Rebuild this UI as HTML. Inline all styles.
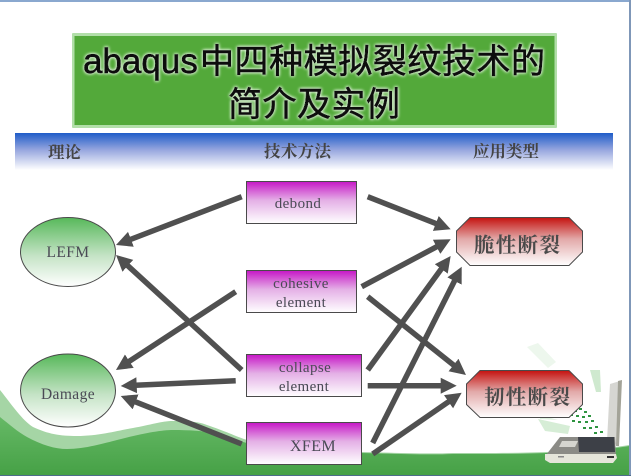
<!DOCTYPE html>
<html><head><meta charset="utf-8"><style>
html,body{margin:0;padding:0;background:#fff;width:631px;height:476px;overflow:hidden}
svg{display:block}
.h{font-family:"Noto Serif CJK SC","Liberation Serif",serif;font-size:16.5px;font-weight:700;fill:#444}
.l{font-family:"Liberation Serif","Noto Serif CJK SC",serif;font-size:15px;fill:#4a4a55;text-anchor:middle;letter-spacing:.4px}
.o{font-family:"Noto Serif CJK SC",serif;font-size:20.5px;font-weight:700;fill:#4a4a4a}
.t{font-family:"Liberation Sans","Noto Sans CJK SC",sans-serif;fill:#111;stroke:#111;stroke-width:.7px}
</style></head><body>
<svg width="631" height="476" viewBox="0 0 631 476" xmlns="http://www.w3.org/2000/svg">
<defs>
<linearGradient id="band" x1="0" y1="0" x2="0" y2="1"><stop offset="0" stop-color="#1f5cc8"/><stop offset=".45" stop-color="#95a5de"/><stop offset="1" stop-color="#ffffff"/></linearGradient>
<linearGradient id="mag" x1="0" y1="0" x2="0" y2="1"><stop offset="0" stop-color="#c616c6"/><stop offset=".45" stop-color="#e4b0e6"/><stop offset="1" stop-color="#ffffff"/></linearGradient>
<linearGradient id="grn" x1="0" y1="0" x2="0" y2="1"><stop offset="0" stop-color="#57b85a"/><stop offset=".55" stop-color="#c4e3c5"/><stop offset="1" stop-color="#ffffff"/></linearGradient>
<linearGradient id="red" x1="0" y1="0" x2="0" y2="1"><stop offset="0" stop-color="#c5120f"/><stop offset=".45" stop-color="#e2a9a9"/><stop offset="1" stop-color="#ffffff"/></linearGradient>
<linearGradient id="hill" x1="0" y1="0" x2="0" y2="1"><stop offset="0" stop-color="#66b966"/><stop offset="1" stop-color="#46a146"/></linearGradient>
<marker id="a" markerUnits="userSpaceOnUse" markerWidth="18" markerHeight="18" refX="4" refY="8.5" orient="auto"><path d="M0 .5L16 8.5L0 16.5Z" fill="#505050"/></marker>
<filter id="g" x="-5%" y="-15%" width="110%" height="130%"><feGaussianBlur in="SourceAlpha" stdDeviation="1.6" result="b"/><feFlood flood-color="#e4f4df"/><feComposite in2="b" operator="in" result="c"/><feMerge><feMergeNode in="c"/><feMergeNode in="c"/><feMergeNode in="SourceGraphic"/></feMerge></filter>
<filter id="s"><feGaussianBlur stdDeviation=".35"/></filter>
</defs>

<!-- background hills -->
<path d="M0 390C12 405 22 420 33 427C48 434 60 436 77 436C100 436 120 430 133 428C150 425 162 421 173 421C190 421 200 422 207 425C225 431 235 436 247 440L362 452C400 453 430 454 453 453C490 453 520 453 547 452C580 451 605 449 629 445V475H0Z" fill="#a5d5a5"/>
<path d="M0 417C10 425 18 432 27 437C42 445 55 449 67 449C85 449 105 443 117 440C140 434 160 430 173 430C190 430 203 431 213 433C225 437 235 440 247 443L362 453C400 454 430 455 453 454C490 454 520 454 547 453C580 452 605 450 629 446V475H0Z" fill="url(#hill)"/>

<!-- laptop -->
<g filter="url(#s)">
<path d="M527 347L538 343L556 362L548 368Z" fill="#edf7ed"/>
<path d="M590 370L600 370L601 392L596 392Z" fill="#cfe9cf"/>
<path d="M538 419L570 426L568 434L545 431Z" fill="#d6edd6"/>
<path d="M540 415L558 420L540 419Z" fill="#e0f1e0"/>
<g fill="#2f9440">
<rect x="574" y="410" width="3" height="2"/><rect x="579" y="408" width="3" height="2"/><rect x="584" y="411" width="3" height="2"/><rect x="570" y="414" width="3" height="2"/><rect x="576" y="415" width="3" height="2"/><rect x="582" y="416" width="3" height="2"/><rect x="588" y="415" width="3" height="2"/><rect x="572" y="420" width="3" height="2"/><rect x="578" y="421" width="3" height="2"/><rect x="585" y="421" width="3" height="2"/><rect x="591" y="420" width="3" height="2"/><rect x="583" y="427" width="3" height="2"/><rect x="589" y="427" width="3" height="2"/><rect x="595" y="426" width="3" height="2"/><rect x="594" y="432" width="3" height="2"/><rect x="600" y="431" width="3" height="2"/>
</g>
<path d="M610 384L620 381L617 445L607 441Z" fill="#d6d6d2"/>
<path d="M618 381L622 380L619 446L616 446Z" fill="#a3a398"/>
<path d="M546 455L560 437L615 437L616 457L612 460H552Z" fill="#8b8b86"/>
<path d="M578 437H614L615 452H579Z" fill="#3e3f46"/>
<path d="M562 441H578L575 447H559Z" fill="#d5d5cf"/>
<path d="M545 454H616L617 458L613 463H550L545 460Z" fill="#e5e5da"/>
<rect x="607" y="456" width="7" height="2" fill="#333"/>
<rect x="558" y="456" width="6" height="1.5" fill="#888"/>
</g>

<!-- frame -->
<rect x="0" y="0" width="631" height="2" fill="#8aa8cf"/>
<rect x="629" y="0" width="2" height="476" fill="#7f97b8"/>
<rect x="0" y="475" width="631" height="1" fill="#4d6d8a"/>

<!-- title -->
<rect x="72" y="33" width="485" height="95" fill="#b2dfa9" rx="1"/>
<rect x="74.5" y="36" width="480" height="89" fill="#53a93a"/>
<g filter="url(#g)">
<text class="t" x="83" y="73" font-size="35">abaqus</text>
<text class="t" x="200" y="73" font-size="34" textLength="345" lengthAdjust="spacing">中四种模拟裂纹技术的</text>
<text class="t" x="228" y="116" font-size="34" textLength="172" lengthAdjust="spacing">简介及实例</text>
</g>

<!-- header band -->
<rect x="15" y="133" width="598" height="37" fill="url(#band)"/>
<text class="h" x="48" y="158" textLength="33" lengthAdjust="spacing">理论</text>
<text class="h" x="264" y="157" textLength="67" lengthAdjust="spacing">技术方法</text>
<text class="h" x="473" y="157" textLength="66" lengthAdjust="spacing">应用类型</text>

<!-- center boxes -->
<g fill="url(#mag)" stroke="#4a4a4a" stroke-width="1">
<rect x="246.5" y="181.5" width="110" height="42"/>
<rect x="246.5" y="270.5" width="110" height="42"/>
<rect x="246.5" y="354.5" width="115" height="42"/>
<rect x="246.5" y="422.5" width="115" height="42"/>
</g>
<text class="l" x="298" y="208">debond</text>
<text class="l" x="301" y="288">cohesive</text>
<text class="l" x="301" y="307">element</text>
<text class="l" x="305" y="372">collapse</text>
<text class="l" x="304" y="391">element</text>
<text class="l" x="313" y="451" style="font-size:16px">XFEM</text>

<!-- ellipses -->
<g fill="url(#grn)" stroke="#4a4a4a" stroke-width="1">
<ellipse cx="68" cy="252" rx="47.5" ry="34.5"/>
<ellipse cx="68" cy="390.5" rx="47.5" ry="36.5"/>
</g>
<text class="l" x="68" y="257" style="font-size:15.5px">LEFM</text>
<text class="l" x="68" y="399" style="font-size:15.5px">Damage</text>

<!-- octagons -->
<g fill="url(#red)" stroke="#4a4a4a" stroke-width="1">
<path d="M470 217.5H569L582.5 231V252L569 265.5H470L456.5 252V231Z"/>
<path d="M480 370.5H569L582.5 384V404.5L569 417.5H480L466.5 404.5V384Z"/>
</g>
<text class="o" x="474" y="252" textLength="86" lengthAdjust="spacing">脆性断裂</text>
<text class="o" x="484" y="404" textLength="86" lengthAdjust="spacing">韧性断裂</text>

<!-- arrows -->
<g stroke="#505050" stroke-width="5.5" fill="none">
<line x1="241.7" y1="196.7" x2="127.2" y2="240.7" marker-end="url(#a)"/>
<line x1="241.7" y1="370" x2="124.9" y2="263.1" marker-end="url(#a)"/>
<line x1="235.7" y1="291.7" x2="126" y2="363.4" marker-end="url(#a)"/>
<line x1="235.7" y1="380.7" x2="132.7" y2="385.4" marker-end="url(#a)"/>
<line x1="241.7" y1="444" x2="131.9" y2="400.4" marker-end="url(#a)"/>
<line x1="367.7" y1="196.7" x2="439.5" y2="224.9" marker-end="url(#a)"/>
<line x1="361.7" y1="286.7" x2="440.1" y2="244.9" marker-end="url(#a)"/>
<line x1="367.7" y1="370" x2="443.6" y2="265.7" marker-end="url(#a)"/>
<line x1="372.7" y1="443" x2="456.3" y2="277.4" marker-end="url(#a)"/>
<line x1="367.7" y1="296.7" x2="456.6" y2="367.5" marker-end="url(#a)"/>
<line x1="367.7" y1="385.7" x2="444.7" y2="385.7" marker-end="url(#a)"/>
<line x1="372.7" y1="454" x2="451.8" y2="399.5" marker-end="url(#a)"/>
</g>
</svg>
</body></html>
